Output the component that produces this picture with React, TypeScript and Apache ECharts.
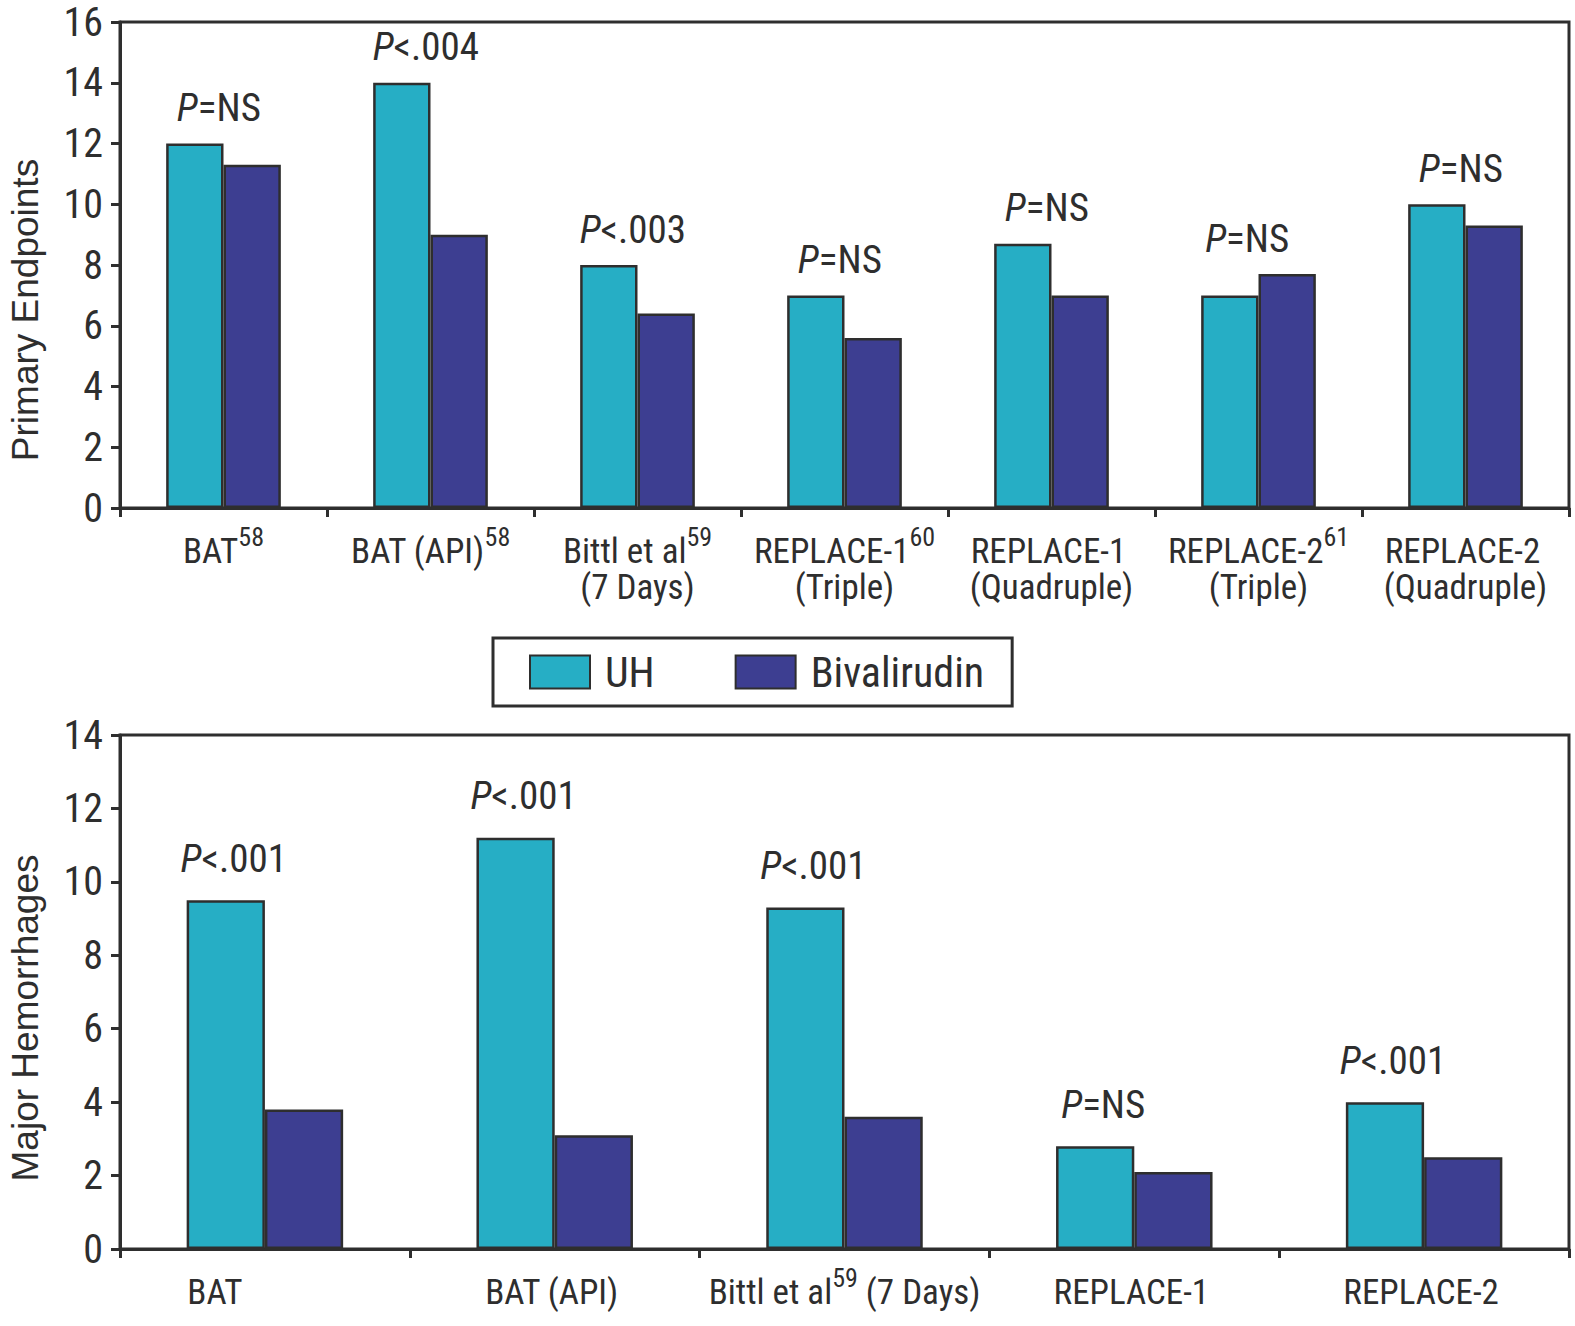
import { useEffect, useRef } from 'react';
import * as echarts from 'echarts';

// upper panel: primary endpoints
const topCategories = [
  'BAT',
  'BAT (API)',
  'Bittl et al (7 Days)',
  'REPLACE-1 (Triple)',
  'REPLACE-1 (Quadruple)',
  'REPLACE-2 (Triple)',
  'REPLACE-2 (Quadruple)',
];
const topTrial = ['BAT', 'BAT (API)', 'Bittl et al', 'REPLACE-1', 'REPLACE-1', 'REPLACE-2', 'REPLACE-2'];
const topRef = ['58', '58', '59', '60', '', '61', ''];
const topSub = ['', '', '(7 Days)', '(Triple)', '(Quadruple)', '(Triple)', '(Quadruple)'];
const topUH = [12, 14, 8.0, 7.0, 8.7, 7.0, 10.0];
const topBiv = [11.3, 9, 6.4, 5.6, 7.0, 7.7, 9.3];
const topP = ['P=NS', 'P<.004', 'P<.003', 'P=NS', 'P=NS', 'P=NS', 'P=NS'];

// lower panel: major hemorrhages
const bottomCategories = ['BAT', 'BAT (API)', 'Bittl et al (7 Days)', 'REPLACE-1', 'REPLACE-2'];
const bottomLead = ['BAT', 'BAT (API)', 'Bittl et al', 'REPLACE-1', 'REPLACE-2'];
const bottomRef = ['', '', '59', '', ''];
const bottomTail = ['', '', ' (7 Days)', '', ''];
const bottomUH = [9.5, 11.2, 9.3, 2.8, 4.0];
const bottomBiv = [3.8, 3.1, 3.6, 2.1, 2.5];
const bottomP = ['P<.001', 'P<.001', 'P<.001', 'P=NS', 'P<.001'];

const seriesNames = ['UH', 'Bivalirudin'];

const NARROW = "'Liberation Sans Narrow', 'Roboto Condensed', 'DejaVu Sans Condensed', 'Arial Narrow', sans-serif";
const REGULAR = "'Liberation Sans', Arial, Helvetica, sans-serif";
const INK = '#2e2e2e';
const TEAL = '#26AEC5';
const NAVY = '#3D3E91';

const labelRich = {
  n: { fontFamily: NARROW, fontSize: 35, lineHeight: 36, verticalAlign: 'bottom' as const, color: INK },
  s: { fontFamily: NARROW, fontSize: 26, lineHeight: 45, verticalAlign: 'top' as const, color: INK },
  pad: {
    fontFamily: NARROW,
    fontSize: 35,
    lineHeight: 36,
    verticalAlign: 'bottom' as const,
    color: INK,
    padding: [0, 94, 0, 0],
  },
};

const pRich = {
  i: { fontFamily: NARROW, fontSize: 39, fontStyle: 'italic' as const, color: INK },
  n: { fontFamily: NARROW, fontSize: 39, color: INK },
};

function pText(p: string) {
  return `{i|P}{n|${p.slice(1)}}`;
}

function topLabel(_v: string, i: number) {
  let s = `{n|${topTrial[i]}}{s|${topRef[i] || ' '}}`;
  if (topSub[i]) s += `\n{n|${topSub[i]}}`;
  return s;
}

function bottomLabel(_v: string, i: number) {
  const lead = i === 0 ? `{pad|${bottomLead[i]}}` : `{n|${bottomLead[i]}}`;
  let s = lead + `{s|${bottomRef[i] || ' '}}`;
  if (bottomTail[i]) s += `{n|${bottomTail[i]}}`;
  return s;
}

function valueAxis(gridIndex: number, max: number, name: string, namePad: number) {
  return {
    type: 'value' as const,
    gridIndex,
    min: 0,
    max,
    interval: 2,
    name,
    nameLocation: 'middle' as const,
    nameGap: 76,
    nameTextStyle: { fontFamily: REGULAR, fontSize: 37, color: INK, padding: [0, namePad, 0, 0] },
    axisLine: { show: true, lineStyle: { color: INK, width: 3 } },
    axisTick: { show: true, length: 9, lineStyle: { color: INK, width: 3 } },
    axisLabel: { fontFamily: NARROW, fontSize: 40, color: INK, margin: 17 },
    splitLine: { show: false },
  };
}

function catAxis(gridIndex: number, data: string[], formatter: (v: string, i: number) => string) {
  return {
    type: 'category' as const,
    gridIndex,
    data,
    axisLine: { show: true, lineStyle: { color: INK, width: 3 } },
    axisTick: { show: true, length: 9, lineStyle: { color: INK, width: 3 } },
    axisLabel: {
      interval: 0,
      hideOverlap: false,
      margin: 16,
      fontFamily: NARROW,
      fontSize: 35,
      lineHeight: 36,
      color: INK,
      formatter,
      rich: labelRich,
    },
  };
}

function bars(
  name: string,
  color: string,
  axis: number,
  values: number[],
  other: number[],
  pvals: string[],
  barWidth: string,
  dx: number,
  distance: number,
  taller: boolean
) {
  return {
    name,
    type: 'bar' as const,
    xAxisIndex: axis,
    yAxisIndex: axis,
    data: values,
    barWidth,
    barGap: '0%',
    itemStyle: { color, borderColor: INK, borderWidth: 2.5 },
    label: {
      show: true,
      position: 'top' as const,
      distance,
      offset: [dx, 0],
      formatter: (p: any) => {
        const i = p.dataIndex;
        const mine = taller ? values[i] >= other[i] : values[i] > other[i];
        return mine ? pText(pvals[i]) : '';
      },
      rich: pRich,
    },
  };
}

function buildOption(): echarts.EChartsOption {
  const gridBase = {
    left: 120,
    right: 6,
    show: true,
    borderColor: INK,
    borderWidth: 3,
    containLabel: false,
    outerBoundsMode: 'none',
  };
  return {
    animation: false,
    backgroundColor: '#ffffff',
    grid: [
      { ...gridBase, top: 22, height: 486 },
      { ...gridBase, top: 735, height: 514 },
    ] as any,
    legend: {
      data: seriesNames,
      left: 493,
      top: 638,
      orient: 'horizontal',
      icon: 'rect',
      itemWidth: 60,
      itemHeight: 33,
      itemGap: 80,
      padding: [13, 28, 13, 36],
      borderColor: INK,
      borderWidth: 3,
      textStyle: { fontFamily: NARROW, fontSize: 42, lineHeight: 36, color: INK, padding: [0, 0, 0, 10] },
    },
    xAxis: [catAxis(0, topCategories, topLabel), catAxis(1, bottomCategories, bottomLabel)],
    yAxis: [
      valueAxis(0, 16, 'Primary Endpoints', 90),
      valueAxis(1, 14, 'Major Hemorrhages', 52),
    ],
    series: [
      bars(seriesNames[0], TEAL, 0, topUH, topBiv, topP, '27.7%', 24, 16, true),
      bars(seriesNames[1], NAVY, 0, topBiv, topUH, topP, '27.7%', -40, 16, false),
      bars(seriesNames[0], TEAL, 1, bottomUH, bottomBiv, bottomP, '27%', 8, 22, true),
      bars(seriesNames[1], NAVY, 1, bottomBiv, bottomUH, bottomP, '27%', -40, 22, false),
    ],
  };
}

export default function App() {
  const ref = useRef<HTMLDivElement | null>(null);

  useEffect(() => {
    if (!ref.current) return;
    const chart = echarts.init(ref.current, undefined, { renderer: 'svg' });
    chart.setOption(buildOption());
    return () => {
      chart.dispose();
    };
  }, []);

  return (
    <div
      ref={ref}
      style={{ position: 'fixed', left: 0, top: 0, width: 1575, height: 1326, background: '#fff' }}
    />
  );
}
